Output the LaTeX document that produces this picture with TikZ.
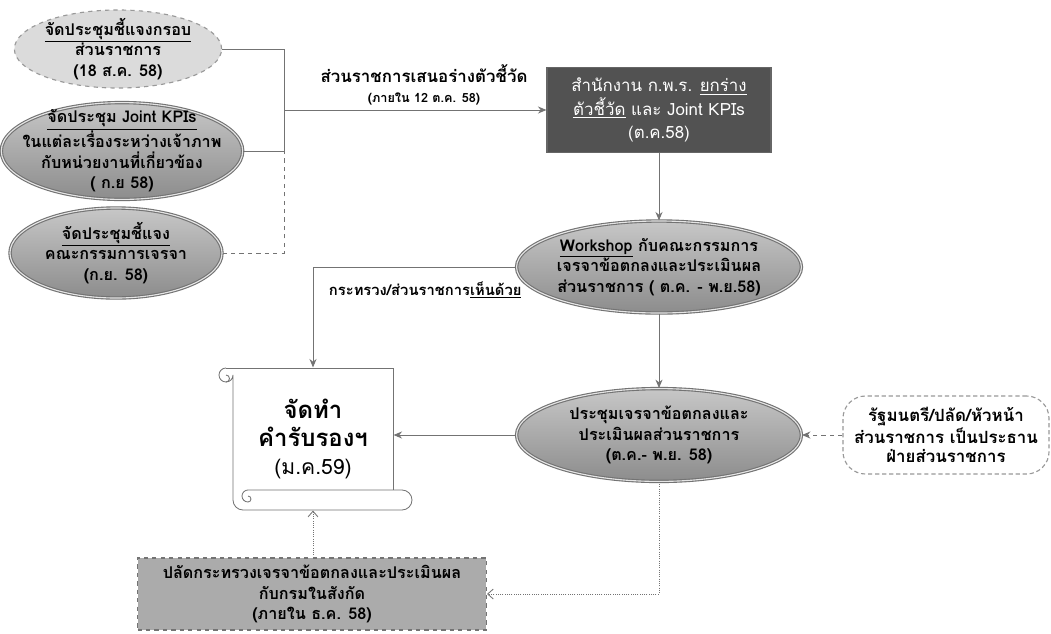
\documentclass[tikz,border=0pt]{standalone}
\usepackage{fontspec}
\setmainfont[Script=Thai]{Loma}
\usepackage{tikz}
\usetikzlibrary{shapes.geometric}
\usetikzlibrary{arrows.meta}
\tikzset{
    ovaln/.style = {ellipse, draw=black!55, double=black!10, double distance=0.8pt, top color=black!22, bottom color=black!45, align=center, inner xsep=-10pt, inner ysep=-6pt},
    ovalpale/.style = {ellipse, draw=black!40, dashed, fill=black!14, align=center, inner xsep=-10pt, inner ysep=-6pt},
    darkbox/.style = {rectangle, draw=black!60, fill=black!68, text=white, align=center, font=\fontsize{12}{16.5}\selectfont},
}

\begin{document}
\begin{tikzpicture}[
	x=0.025cm, y=-0.025cm,
	thick,
	font=\bfseries\fontsize{11.5}{14.5}\selectfont
]
\tikzset{
    conn/.style = {draw=black!55, semithick},
    connarr/.style = {conn, -{Stealth[length=6pt,width=5pt]}},
    conndash/.style = {conn, dashed},
    conndot/.style = {conn, densely dotted, -{Straight Barb[length=4pt,width=7pt]}},
    softbox/.style = {rectangle, rounded corners=16pt, draw=black!40, densely dashed, align=center, font=\bfseries\fontsize{12}{14}\selectfont},
    greybox/.style = {rectangle, draw=black!55, dashed, fill=black!33, align=center},
    scrolledge/.style = {draw=black!55, semithick},
    lbl/.style = {align=center, inner sep=1pt}
}
\fill[white] (0,0) rectangle (1051,633);
\useasboundingbox (0,0) rectangle (1051,633);
%
\node[ovalpale, minimum width=5.18cm, minimum height=1.95cm] at (118,49) (meetframe) {\underline{จัดประชุมชี้แจงกรอบ}\\ส่วนราชการ\\(18 ส.ค. 58)};
\node[ovaln, minimum width=5.38cm, minimum height=2.42cm] at (122,151) (meetjoint) {\underline{จัดประชุม Joint KPIs}\\ในแต่ละเรื่องระหว่างเจ้าภาพ\\กับหน่วยงานที่เกี่ยวข้อง\\( ก.ย 58)};
\node[ovaln, minimum width=5.3cm, minimum height=2.25cm] at (116,253) (meetboard) {\underline{จัดประชุมชี้แจง}\\คณะกรรมการเจรจา\\(ก.ย. 58)};
%
\node[darkbox, minimum width=5.6cm, minimum height=2.12cm] at (659,110) (opdc) {สำนักงาน ก.พ.ร. \underline{ยกร่าง}\\\underline{ตัวชี้วัด} และ Joint KPIs\\(ต.ค.58)};
\node[ovaln, minimum width=7.12cm, minimum height=2.3cm] at (659,267) (workshop) {\underline{Workshop} กับคณะกรรมการ\\เจรจาข้อตกลงและประเมินผล\\ส่วนราชการ ( ต.ค. - พ.ย.58)};
\node[ovaln, minimum width=7.12cm, minimum height=2.32cm] at (659,435) (negotiate) {ประชุมเจรจาข้อตกลงและ\\ประเมินผลส่วนราชการ\\(ต.ค.- พ.ย. 58)};
\node[softbox, minimum width=5.15cm, minimum height=1.95cm] at (946,435) (chair) {รัฐมนตรี/ปลัด/หัวหน้า\\ส่วนราชการ เป็นประธาน\\ฝ่ายส่วนราชการ};
\node[greybox, minimum width=8.72cm, minimum height=1.8cm] at (312,594) (permsec) {ปลัดกระทรวงเจรจาข้อตกลงและประเมินผล\\กับกรมในสังกัด\\(ภายใน ธ.ค. 58)};
%
\node[align=center, inner sep=0pt, minimum width=4cm, minimum height=3.55cm, font=\bfseries\fontsize{17}{20}\selectfont] at (313,439) (scroll) {จัดทำ\\คำรับรองฯ\\{\mdseries\fontsize{15}{20}\selectfont (ม.ค.59)}};
\draw[scrolledge] (226,368) -- (393,368) -- (393,490);
\draw[scrolledge] (226,368) arc[start angle=-90, end angle=-360, radius=7] -- (233,500)
    arc[start angle=180, end angle=90, radius=10] -- (402,510)
    arc[start angle=90, end angle=-90, radius=10] -- (248,490)
    arc[start angle=-90, end angle=-270, radius=6]
    arc[start angle=90, end angle=-90, radius=3];
\draw[scrolledge] (226,382) arc[start angle=90, end angle=-90, radius=3.5];
%
\coordinate (jsolid) at (284,110);
\coordinate (jdash) at (284,151);
\draw[conn] (meetframe.east) -| (jsolid);
\draw[conn] (meetjoint.east) -| (jsolid);
\draw[conndash] (meetboard.east) -| (jdash);
\draw[connarr] (jsolid) -- (jsolid -| opdc.west);
\node[lbl] at (424,85) (propose) {{\fontsize{12}{12}\selectfont ส่วนราชการเสนอร่างตัวชี้วัด}\\{\fontsize{9}{10}\selectfont (ภายใน 12 ต.ค. 58)}};
%
\draw[connarr] (opdc.south) -- (opdc.south |- workshop.north);
\draw[connarr] (workshop.south) -- (workshop.south |- negotiate.north);
\draw[connarr] (workshop.west) -| (scroll.north);
\node[lbl, anchor=west, font=\bfseries\fontsize{10.5}{13}\selectfont] at (327,290) (agree) {กระทรวง/ส่วนราชการ\underline{เห็นด้วย}};
\draw[connarr] (negotiate.west) -- (negotiate.west -| scroll.east);
\draw[conndash, -{Stealth[length=6pt,width=5pt]}] (chair.west) -- (negotiate.east);
%
\draw[conndot] (negotiate.south) |- (permsec.east);
\draw[conndot] (scroll.south |- permsec.north) -- (scroll.south);
\end{tikzpicture}
\end{document}
